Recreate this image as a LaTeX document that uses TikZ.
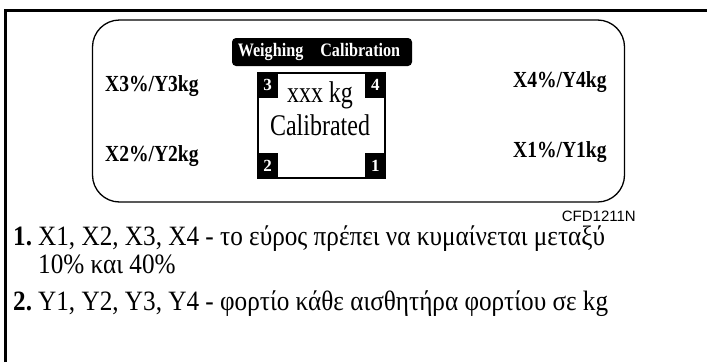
\documentclass[tikz,border=0pt]{standalone}
\usepackage{fontspec}
\setmainfont{Liberation Serif}
\newfontfamily\narrowserif[FakeStretch=0.85]{Liberation Serif}
\newfontfamily\screenserif[FakeStretch=0.8]{Liberation Serif}
\newfontfamily\noteserif[FakeStretch=0.9]{Liberation Serif}
\newfontfamily\codefont{Liberation Sans}
\usetikzlibrary{positioning}

\begin{document}
\begin{tikzpicture}[x=1pt, y=-1pt,
panel/.style={draw=black, line width=1.3pt, rounded corners=27pt, minimum width=532pt, minimum height=182pt},
badge/.style={fill=black, text=white, rounded corners=4pt, inner sep=0pt, minimum width=180pt, minimum height=28pt, font=\narrowserif\bfseries\fontsize{19}{19}\selectfont},
display/.style={draw=black, line width=1.2pt, minimum width=127pt, minimum height=105pt},
cornerbox/.style={fill=black, text=white, inner sep=0pt, minimum width=20pt, minimum height=25pt, font=\bfseries\fontsize{17}{17}\selectfont},
load/.style={anchor=base west, inner sep=0pt, font=\narrowserif\bfseries\fontsize{23}{23}\selectfont},
note/.style={anchor=base west, inner sep=0pt, font=\noteserif\fontsize{28}{30}\selectfont}
]
\useasboundingbox (0,0) rectangle (707,362);
%Frame
\draw[line width=3pt] (5,362) -- (5,10) -- (707,10);
%Nodes
\node[panel]     (panel)    at (358.5,111)     {};
\node[badge]     (title)    at (322,52)        {Weighing\hspace{17pt}Calibration\hspace*{6pt}};
\node[display]   (screen)   at (321.5,125.5)   {};
\node[cornerbox] (c3)       [below right=0pt of screen.north west] {3};
\node[cornerbox] (c4)       [below left=0pt of screen.north east]  {4};
\node[cornerbox] (c2)       [above right=0pt of screen.south west] {2};
\node[cornerbox] (c1)       [above left=0pt of screen.south east]  {1};
\node[align=center, inner sep=0pt, font=\screenserif\fontsize{30}{33}\selectfont] (reading) at (320,109) {xxx kg\\Calibrated};
\node[load]      (x3)       at (105,91)        {X3\%/Y3kg};
\node[load]      (x2)       at (105,161)       {X2\%/Y2kg};
\node[load]      (x4)       at (513,87)        {X4\%/Y4kg};
\node[load]      (x1)       at (513,157)       {X1\%/Y1kg};
\node[anchor=base east, inner sep=0pt, font=\codefont\fontsize{15}{15}\selectfont] (code) at (636,221) {CFD1211N};
%Notes
\node[note]      (num1)     at (13,245)        {\textbf{1.}};
\node[note]      (note1)    at (38,245)        {X1, X2, X3, X4 - το εύρος πρέπει να κυμαίνεται μεταξύ};
\node[note]      (note1b)   at (38,273)        {10\% και 40\%};
\node[note]      (num2)     at (13,310)        {\textbf{2.}};
\node[note]      (note2)    at (38,310)        {Y1, Y2, Y3, Y4 - φορτίο κάθε αισθητήρα φορτίου σε kg};
\end{tikzpicture}
\end{document}
